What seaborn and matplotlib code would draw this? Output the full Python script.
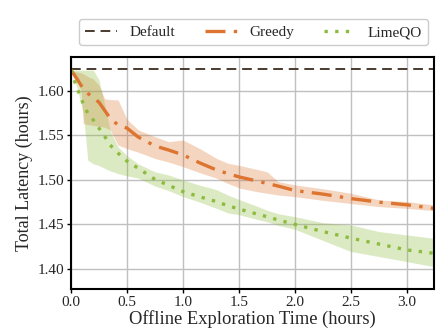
import numpy as np
import pandas as pd
import seaborn as sns
import matplotlib
matplotlib.use("Agg")
import matplotlib.pyplot as plt

# ---- data ----
time_h = [0, 0.05, 0.09, 0.11, 0.15, 0.2, 0.25, 0.3, 0.35, 0.42, 0.5, 0.6, 0.75, 0.87,
          1.0, 1.15, 1.3, 1.4, 1.51, 1.65, 1.75, 1.85, 2.0, 2.25, 2.5, 2.75, 3.0, 3.24]

default_latency = 1.624

greedy_mean = [1.623, 1.614, 1.606, 1.603, 1.597, 1.592, 1.587, 1.578, 1.569, 1.5615, 1.558, 1.548,
               1.538, 1.5335, 1.528, 1.519, 1.511, 1.507, 1.503, 1.499, 1.496, 1.493, 1.488, 1.484,
               1.479, 1.475, 1.472, 1.468]
greedy_upper = [1.623, 1.621, 1.620, 1.619, 1.616, 1.613, 1.606, 1.591, 1.590, 1.5896, 1.568, 1.556,
                1.5484, 1.5428, 1.5447, 1.535, 1.524, 1.5186, 1.516, 1.512, 1.509, 1.498, 1.4943,
                1.490, 1.485, 1.4775, 1.4756, 1.4719]
greedy_lower = [1.623, 1.612, 1.600, 1.563, 1.562, 1.561, 1.560, 1.559, 1.556, 1.539, 1.535, 1.531,
                1.524, 1.520, 1.5148, 1.508, 1.5018, 1.496, 1.4906, 1.487, 1.485, 1.483, 1.4812,
                1.477, 1.4735, 1.470, 1.468, 1.4655]

limeqo_mean = [1.623, 1.604, 1.592, 1.585, 1.5747, 1.567, 1.558, 1.549, 1.539, 1.530, 1.521, 1.513,
               1.5005, 1.494, 1.4868, 1.481, 1.4756, 1.471, 1.467, 1.462, 1.4587, 1.455, 1.450,
               1.442, 1.4346, 1.428, 1.4214, 1.4177]
limeqo_upper = [1.623, 1.623, 1.623, 1.623, 1.623, 1.623, 1.612, 1.585, 1.555, 1.537, 1.527, 1.518,
                1.509, 1.5055, 1.500, 1.494, 1.489, 1.483, 1.4775, 1.471, 1.466, 1.462, 1.4587,
                1.452, 1.4494, 1.442, 1.4382, 1.4345]
limeqo_lower = [1.623, 1.605, 1.585, 1.575, 1.522, 1.518, 1.516, 1.513, 1.510, 1.507, 1.5045, 1.502,
                1.493, 1.488, 1.4812, 1.475, 1.468, 1.463, 1.4606, 1.456, 1.453, 1.449, 1.4445,
                1.432, 1.4196, 1.414, 1.4083, 1.4027]

x_ticks = [0.0, 0.5, 1.0, 1.5, 2.0, 2.5, 3.0]
y_ticks = [1.40, 1.45, 1.50, 1.55, 1.60]

# ---- style ----
sns.set_style("whitegrid")
plt.rcParams["font.family"] = ["Liberation Serif", "DejaVu Serif"]

C_DEFAULT = "#4a3b2e"
C_GREEDY = "#dd7430"
C_LIME = "#8dbb3e"

fig = plt.figure(figsize=(4.38, 3.33), dpi=100)
ax = fig.add_axes([0.162, 0.132, 0.829, 0.697])

df = pd.DataFrame({
    "time": time_h * 2,
    "latency": greedy_mean + limeqo_mean,
    "method": ["Greedy"] * len(time_h) + ["LimeQO"] * len(time_h),
})

ax.axhline(default_latency, color=C_DEFAULT, ls=(0, (5, 3)), lw=1.4, label="Default")

ax.fill_between(time_h, greedy_lower, greedy_upper, color=C_GREEDY, alpha=0.3, lw=0)
ax.fill_between(time_h, limeqo_lower, limeqo_upper, color=C_LIME, alpha=0.3, lw=0)

sns.lineplot(data=df[df.method == "Greedy"], x="time", y="latency", ax=ax,
             color=C_GREEDY, lw=2.4, ls=(0, (6, 2.5, 1, 2.5)), label="Greedy")
sns.lineplot(data=df[df.method == "LimeQO"], x="time", y="latency", ax=ax,
             color=C_LIME, lw=2.4, ls=(0, (1, 2.2)), label="LimeQO")

ax.set_xlim(0, 3.24)
ax.set_ylim(1.3776, 1.6378)
ax.set_xticks(x_ticks)
ax.set_yticks(y_ticks)
ax.set_xticklabels([f"{v:.1f}" for v in x_ticks])
ax.set_yticklabels([f"{v:.2f}" for v in y_ticks])
ax.tick_params(labelsize=11, length=3, width=1, color="black", bottom=True, left=True, pad=2)
ax.set_xlabel("Offline Exploration Time (hours)", fontsize=13.3, labelpad=1)
ax.set_ylabel("Total Latency (hours)", fontsize=13, labelpad=3)

ax.grid(True, color="#c0c0c0", lw=1.0)
for s in ax.spines.values():
    s.set_color("black")
    s.set_linewidth(1.5)

ax.legend(loc="center", bbox_to_anchor=(0.503, 1.106), ncol=3, fontsize=11,
          frameon=True, fancybox=True, handlelength=2.1, columnspacing=1.95,
          borderpad=0.4, framealpha=1, edgecolor="#cccccc")

fig.savefig("out.png", dpi=100)
